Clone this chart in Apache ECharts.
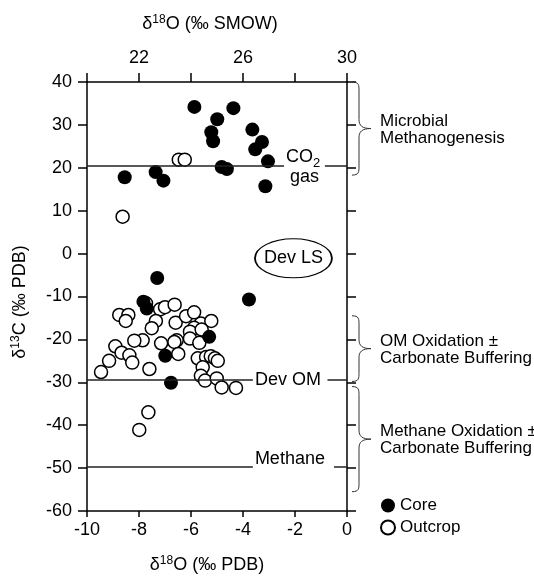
<!DOCTYPE html>
<html>
<head>
<meta charset="utf-8">
<script src="https://cdn.jsdelivr.net/npm/echarts@6/dist/echarts.min.js"></script>
<style>
  html, body { margin: 0; padding: 0; background: #fff; }
  #chart { width: 534px; height: 577px; }
</style>
</head>
<body>
<div id="chart"></div>
<script>
// δ18O (PDB) / δ13C (PDB)
const coreO = [-5.87, -4.37, -4.99, -5.22, -5.15, -3.64, -3.27, -3.53, -3.04, -4.82, -4.62,
  -8.55, -7.36, -7.06, -3.14, -7.30, -3.77, -7.83, -7.70, -5.30, -6.99, -6.77]
const coreC = [34.2, 33.9, 31.3, 28.3, 26.2, 28.9, 26.0, 24.3, 21.5, 20.2, 19.7,
  17.8, 19.0, 17.0, 15.7, -5.7, -10.7, -11.2, -12.8, -19.4, -23.8, -30.1]

const outcropO = [-6.47, -6.24, -8.63,
  -8.76, -8.41, -8.51, -7.73, -7.19, -7.00, -6.63, -7.35, -7.51, -6.59, -6.19, -5.88,
  -5.62, -5.22, -5.88, -6.04, -6.04, -5.68, -6.55, -6.64, -7.15, -7.86, -8.18, -8.91,
  -8.67, -8.37, -8.26, -9.15, -9.46, -7.60, -6.49, -5.74, -5.42, -5.24, -5.08, -4.97,
  -5.55, -5.62, -5.46, -5.01, -4.82, -4.27, -7.64, -7.99, -5.59]
const outcropC = [21.9, 21.9, 8.6,
  -14.3, -14.3, -15.7, -11.6, -13.0, -12.5, -11.9, -15.7, -17.4, -16.1, -14.6, -13.7,
  -16.3, -15.7, -17.3, -18.2, -19.8, -20.8, -20.2, -20.6, -20.9, -20.2, -20.3, -21.6,
  -23.1, -23.7, -25.4, -25.0, -27.6, -26.9, -23.4, -24.4, -24.1, -23.9, -24.4, -25.0,
  -26.5, -28.5, -29.6, -29.1, -31.2, -31.3, -37.0, -41.1, -17.7]

// Dev LS reference composition
const devLS = [-2.06, -1.1]

// reference δ13C values (line broken where the label sits)
const refNames = ['CO2 gas', 'Dev OM', 'Methane']
const refC = [20.4, -29.5, -49.7]
const refBreakFrom = [-2.42, -3.62, -3.62]
const refBreakTo = [-0.85, -0.75, -0.5]

// process ranges (δ13C) for the braces
const zoneNames = ['Microbial\nMethanogenesis', 'OM Oxidation ±\nCarbonate Buffering',
  'Methane Oxidation ±\nCarbonate Buffering']
const zoneTop = [40, -14.5, -31]
const zoneBottom = [18.3, -29.8, -55.5]

const xTicks = { min: -10, max: 0, interval: 2 }
const smowTicks = { min: 20, max: 30, interval: 2, labels: [22, 26, 30] }
const yTicks = { min: -60, max: 40, interval: 10 }

const FONT = '"Liberation Sans", Arial, Helvetica, sans-serif'

const pair = (xs, ys) => xs.map((x, i) => [x, ys[i]])

const axisLine = { onZero: false, lineStyle: { color: '#000', width: 1.5 } }
const tick = len => ({ show: true, inside: false, length: len, lineStyle: { color: '#000', width: 1.5 } })
const labelStyle = { color: '#000', fontSize: 18, fontFamily: FONT }

function refLineData () {
  const data = []
  for (let i = 0; i < refNames.length; i++) {
    // CO2 label straddles the line, Methane sits on it, Dev OM is centred on it
    let formatter = refNames[i]
    if (i === 0) formatter = '{a|CO}{s|2}\n{b|gas}'
    if (i === 2) formatter = '{up|' + refNames[i] + '}'
    data.push([
      {
        coord: [xTicks.min, refC[i]],
        label: {
          show: true,
          position: 'end',
          distance: 2,
          formatter,
          color: '#000',
          fontSize: 18,
          fontFamily: FONT,
          lineHeight: 20,
          rich: {
            a: { fontSize: 18, fontFamily: FONT, color: '#000', lineHeight: 22 },
            s: { fontSize: 13, fontFamily: FONT, color: '#000', padding: [12, 0, 0, 0] },
            b: { fontSize: 18, fontFamily: FONT, color: '#000', padding: [0, 0, 0, 4], lineHeight: 18 },
            up: { fontSize: 18, fontFamily: FONT, color: '#000', padding: [0, 0, 15, 0] }
          }
        }
      },
      { coord: [refBreakFrom[i], refC[i]] }
    ])
    data.push([
      { coord: [refBreakTo[i], refC[i]], label: { show: false } },
      { coord: [xTicks.max, refC[i]], label: { show: false } }
    ])
  }
  return data
}

// curly brace opening towards the plot, tip pointing right
function bracePath (x0, yT, yB) {
  const yM = (yT + yB) / 2
  const x1 = x0 + 7
  const x2 = x0 + 19
  const r = 9
  return `M${x0} ${yT} C${x1} ${yT} ${x1} ${yT + 3} ${x1} ${yT + r} ` +
    `L${x1} ${yM - r} C${x1} ${yM - 3} ${x1 + 3} ${yM} ${x2} ${yM} ` +
    `C${x1 + 3} ${yM} ${x1} ${yM + 3} ${x1} ${yM + r} ` +
    `L${x1} ${yB - r} C${x1} ${yB - 3} ${x1} ${yB} ${x0} ${yB}`
}

function renderBrace (params, api) {
  const x0 = api.coord([xTicks.max, 0])[0] + 5
  const yT = api.coord([xTicks.max, api.value(0)])[1]
  const yB = api.coord([xTicks.max, api.value(1)])[1]
  return {
    type: 'group',
    children: [
      {
        type: 'path',
        shape: { pathData: bracePath(x0, yT, yB) },
        style: { fill: 'none', stroke: '#333', lineWidth: 1 }
      },
      {
        type: 'text',
        x: x0 + 28,
        y: (yT + yB) / 2 + 1,
        style: {
          text: zoneNames[params.dataIndex],
          fill: '#000',
          fontSize: 17,
          fontFamily: FONT,
          lineHeight: 17,
          align: 'left',
          verticalAlign: 'middle'
        }
      }
    ]
  }
}

const chart = echarts.init(document.getElementById('chart'))

const supRich = {
  sup: { fontSize: 12, fontFamily: FONT, fill: '#000', padding: [0, 0, 9, 0] }
}
const titleStyle = text => ({
  text, rich: supRich, fill: '#000', fontSize: 18, fontFamily: FONT,
  align: 'center', verticalAlign: 'middle'
})

chart.setOption({
  animation: false,
  backgroundColor: '#fff',
  grid: { left: 87, right: 187, top: 82, bottom: 66 },
  legend: {
    data: ['Core', 'Outcrop'],
    orient: 'vertical',
    left: 375,
    top: 492,
    itemWidth: 14,
    itemHeight: 14,
    itemGap: 5,
    textStyle: { color: '#000', fontSize: 17, fontFamily: FONT }
  },
  graphic: [
    { type: 'text', x: 210, y: 24, style: titleStyle('δ{sup|18}O (‰ SMOW)') },
    { type: 'text', x: 207, y: 565, style: titleStyle('δ{sup|18}O (‰ PDB)') },
    { type: 'text', x: 20, y: 302, rotation: Math.PI / 2, style: titleStyle('δ{sup|13}C (‰ PDB)') }
  ],
  xAxis: [
    {
      type: 'value',
      position: 'bottom',
      min: xTicks.min,
      max: xTicks.max,
      interval: xTicks.interval,
      axisLine,
      axisTick: tick(6),
      axisLabel: { ...labelStyle, margin: 10 },
      splitLine: { show: false }
    },
    {
      type: 'value',
      position: 'top',
      min: smowTicks.min,
      max: smowTicks.max,
      interval: smowTicks.interval,
      axisLine,
      axisTick: tick(9),
      axisLabel: {
        ...labelStyle,
        margin: 15,
        formatter: v => (smowTicks.labels.includes(v) ? String(v) : '')
      },
      splitLine: { show: false }
    }
  ],
  yAxis: [
    {
      type: 'value',
      position: 'left',
      min: yTicks.min,
      max: yTicks.max,
      interval: yTicks.interval,
      axisLine,
      axisTick: tick(9),
      axisLabel: { ...labelStyle, margin: 15 },
      splitLine: { show: false }
    },
    {
      type: 'value',
      position: 'right',
      min: yTicks.min,
      max: yTicks.max,
      interval: yTicks.interval,
      axisLine,
      axisTick: tick(9),
      axisLabel: { show: false },
      splitLine: { show: false }
    }
  ],
  series: [
    {
      name: 'Outcrop',
      type: 'scatter',
      data: pair(outcropO, outcropC),
      symbol: 'circle',
      symbolSize: 13,
      itemStyle: { color: '#fff', borderColor: '#000', borderWidth: 1.5, opacity: 1 },
      z: 3
    },
    {
      name: 'Core',
      type: 'scatter',
      data: pair(coreO, coreC),
      symbol: 'circle',
      symbolSize: 14,
      itemStyle: { color: '#000', opacity: 1 },
      z: 4,
      markLine: {
        silent: true,
        symbol: ['none', 'none'],
        animation: false,
        lineStyle: { color: '#222', width: 1.5, type: 'solid' },
        emphasis: { disabled: true },
        data: refLineData()
      }
    },
    {
      name: 'Dev LS',
      type: 'scatter',
      data: [devLS],
      symbol: 'circle',
      symbolSize: [77, 39],
      itemStyle: { color: '#fff', borderColor: '#000', borderWidth: 1.3, opacity: 1 },
      label: {
        show: true,
        position: 'inside',
        formatter: 'Dev LS',
        color: '#000',
        fontSize: 18,
        fontFamily: FONT
      },
      z: 2
    },
    {
      name: 'zones',
      type: 'custom',
      silent: true,
      clip: false,
      renderItem: renderBrace,
      encode: { y: [0, 1] },
      data: zoneTop.map((t, i) => [t, zoneBottom[i]])
    }
  ]
})
</script>
</body>
</html>
